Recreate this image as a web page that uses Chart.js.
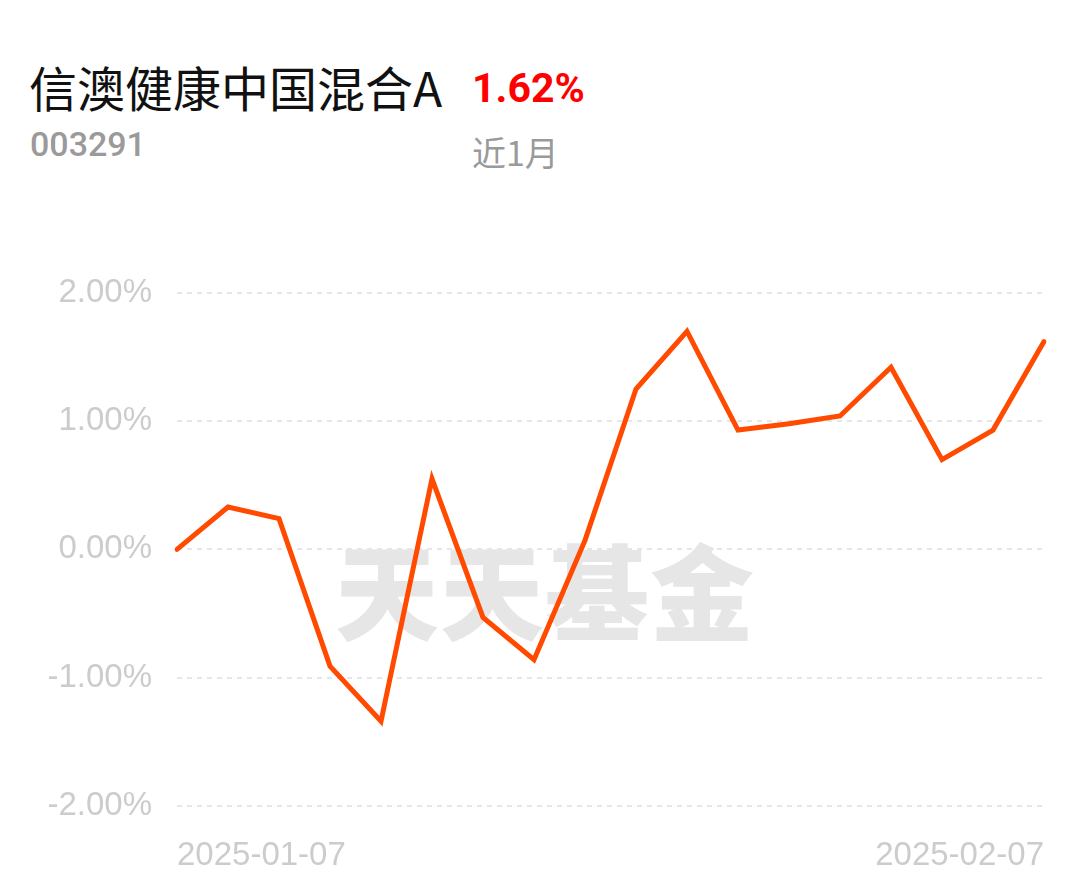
<!DOCTYPE html>
<html>
<head>
<meta charset="utf-8">
<script src="https://cdn.jsdelivr.net/npm/chart.js@4"></script>
<style>
    body { margin: 0; background: #fff; width: 1089px; height: 881px; overflow: hidden; position: relative; font-family: "Noto Sans CJK SC", "Noto Sans", sans-serif; }
    .title { position: absolute; left: 29px; top: 55px; font-size: 48px; color: #111; line-height: 62px; }
    .ret { position: absolute; left: 472px; top: 58px; font-size: 41px; font-weight: bold; color: #ff0000; font-family: Roboto, "Liberation Sans", sans-serif; line-height: 60px; }
    .code { position: absolute; left: 30px; top: 122px; font-size: 34px; color: #9a9a9a; font-weight: 500; font-family: Roboto, sans-serif; line-height: 44px; }
    .period { position: absolute; left: 472px; top: 128px; font-size: 34px; color: #9a9a9a; line-height: 48px; }
    .mark { position: absolute; left: 335px; top: 528px; font-size: 104px; font-weight: 900; color: #e6e6e6; line-height: 120px; letter-spacing: 1px; font-family: "Noto Sans CJK SC", sans-serif; }
    #wrap { position: absolute; left: 0; top: 248px; width: 1089px; height: 633px; }
</style>
</head>
<body>
<div class="title">信澳健康中国混合A</div>
<div class="ret">1.62%</div>
<div class="code">003291</div>
<div class="period">近1月</div>
<div class="mark">天天基金</div>
<div id="wrap"><canvas id="chart"></canvas></div>
<script>
// trading days, 2025-01-07 .. 2025-02-07 (spring festival gap)
const dates = [
    '2025-01-07', '2025-01-08', '2025-01-09', '2025-01-10', '2025-01-13', '2025-01-14',
    '2025-01-15', '2025-01-16', '2025-01-17', '2025-01-20', '2025-01-21', '2025-01-22',
    '2025-01-23', '2025-01-24', '2025-01-27', '2025-02-05', '2025-02-06', '2025-02-07'
];
// cumulative return, %
const returns = [
    0.00, 0.33, 0.24, -0.91, -1.34, 0.55,
    -0.53, -0.86, 0.07, 1.25, 1.70, 0.93,
    0.98, 1.04, 1.42, 0.70, 0.93, 1.62
];
const yTicks = [-2, -1, 0, 1, 2];

const tickFont = { family: "'Liberation Sans', Arial, sans-serif", size: 33 };

new Chart(document.getElementById('chart'), {
    type: 'line',
    data: {
        labels: dates,
        datasets: [{
            data: returns,
            borderColor: '#ff4a00',
            borderWidth: 5,
            pointRadius: 0,
            tension: 0,
            borderCapStyle: 'round',
            fill: false
        }]
    },
    options: {
        responsive: true,
        maintainAspectRatio: false,
        animation: false,
        layout: { padding: { top: 20, right: 45, bottom: 5, left: 0 } },
        plugins: { legend: { display: false }, tooltip: { enabled: false } },
        scales: {
            x: {
                grid: { display: false, drawTicks: false },
                border: { display: false },
                afterFit: scale => { scale.height = 70; },
                ticks: {
                    autoSkip: false,
                    maxRotation: 0,
                    align: 'inner',
                    padding: 30,
                    color: '#cccccc',
                    font: tickFont,
                    callback: function (val, i) {
                        return (i === 0 || i === dates.length - 1) ? dates[i] : '';
                    }
                }
            },
            y: {
                min: yTicks[0],
                max: yTicks[yTicks.length - 1],
                afterFit: scale => { scale.width = 177; },
                afterBuildTicks: scale => { scale.ticks = yTicks.map(v => ({ value: v })); },
                grid: { color: '#e6e6e6', lineWidth: 2, drawTicks: false },
                border: { display: false, dash: [5, 5] },
                ticks: {
                    padding: 25,
                    color: '#cccccc',
                    font: tickFont,
                    callback: v => v.toFixed(2) + '%'
                }
            }
        }
    }
});
</script>
</body>
</html>
